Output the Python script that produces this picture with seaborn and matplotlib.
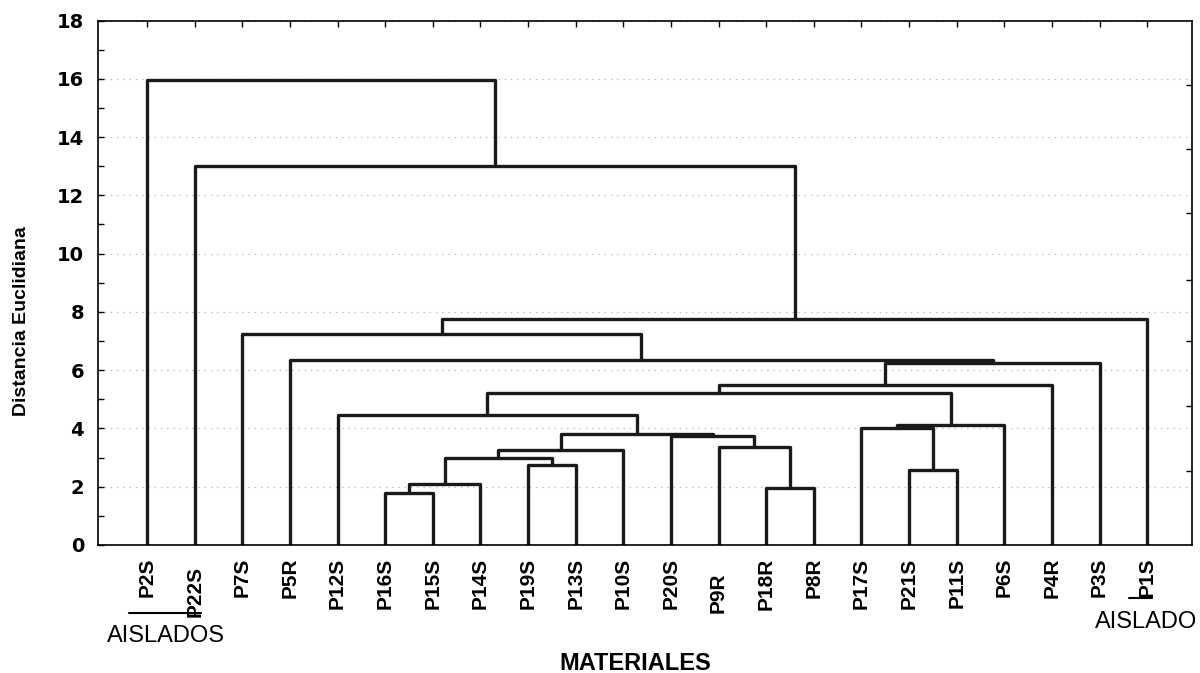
import numpy as np
import pandas as pd
import seaborn as sns
import matplotlib.pyplot as plt
import matplotlib.transforms as mtransforms
from matplotlib.lines import Line2D
from matplotlib.ticker import MultipleLocator

# hojas del dendrograma, en el orden en que se dibujan
leaves = ["P2S", "P22S", "P7S", "P5R", "P12S", "P16S", "P15S", "P14S", "P19S",
          "P13S", "P10S", "P20S", "P9R", "P18R", "P8R", "P17S", "P21S", "P11S",
          "P6S", "P4R", "P3S", "P1S"]

# uniones (tipo linkage): hoja < 22, grupo nuevo = 22 + fila
merge_a = [5, 22, 8, 23, 25, 13, 12, 11, 26, 4, 16, 15, 33, 31, 35, 36, 3, 2, 39, 1, 0]
merge_b = [6, 7, 9, 24, 10, 14, 27, 28, 29, 30, 17, 32, 18, 34, 19, 20, 37, 38, 21, 40, 41]
merge_h = [1.79, 2.10, 2.74, 2.97, 3.25, 1.97, 3.37, 3.73, 3.80, 4.45, 2.59, 4.00,
           4.11, 5.21, 5.48, 6.26, 6.34, 7.24, 7.77, 13.02, 15.97]

# marcas del eje derecho (escala propia de Statistica)
right_ticks = [2.53, 4.76, 7.0, 9.1, 11.4, 13.6, 15.8]

n = len(leaves)
pos = {i: (i + 1, 0.0) for i in range(n)}
rows = []
for k, (a, b, h) in enumerate(zip(merge_a, merge_b, merge_h)):
    xa, ya = pos[a]
    xb, yb = pos[b]
    for x, y in [(xa, ya), (xa, h), (xb, h), (xb, yb)]:
        rows.append({"seg": k, "x": x, "y": y})
    pos[n + k] = ((xa + xb) / 2, h)
df = pd.DataFrame(rows)

sns.set_style("white", rc={"text.color": "black", "axes.labelcolor": "black",
                           "xtick.color": "black", "ytick.color": "black",
                           "axes.edgecolor": "black"})
plt.rcParams["font.family"] = ["Liberation Sans", "DejaVu Sans"]

fig = plt.figure(figsize=(12, 6.73), dpi=100)
ax = fig.add_axes([98 / 1200, 128 / 673, 1094 / 1200, 524.5 / 673])

sns.lineplot(data=df, x="x", y="y", units="seg", estimator=None, sort=False,
             color="#1a1a1a", linewidth=2.4, ax=ax)

ax.set_xlim(-0.03, 22.94)
ax.set_ylim(0, 18)
ax.set_xlabel("")
ax.set_ylabel("")

ax.set_xticks(range(1, n + 1))
ax.set_xticklabels(leaves, rotation=90, fontweight="bold", fontsize=15)
ax.tick_params(axis="x", direction="in", length=4, width=1, top=True, pad=9)

ax.set_yticks(range(0, 19, 2))
ax.yaxis.set_minor_locator(MultipleLocator(1))
ax.set_yticklabels([str(v) for v in range(0, 19, 2)], fontweight="bold",
                   fontsize=14, family="DejaVu Sans")
ax.tick_params(axis="y", which="both", direction="in", length=4, width=1, pad=10)
ax.yaxis.grid(True, linestyle=(0, (1, 4)), color="#b5b5b5", linewidth=0.9)
ax.set_axisbelow(True)

for s in ax.spines.values():
    s.set_color("black")
    s.set_linewidth(1.2)

ax2 = ax.twinx()
ax2.set_ylim(0, 18)
ax2.set_yticks(right_ticks)
ax2.tick_params(axis="y", direction="in", length=4, width=1, labelright=False)
for s in ax2.spines.values():
    s.set_visible(False)

# etiquetas desplazadas como en el original
shift = {"P22S": 8, "P9R": 15}
for lab in ax.get_xticklabels():
    if lab.get_text() in shift:
        off = mtransforms.ScaledTranslation(0, -shift[lab.get_text()] / 100, fig.dpi_scale_trans)
        lab.set_transform(lab.get_transform() + off)

fig.text(22 / 1200, 1 - 321 / 673, "Distancia Euclidiana", rotation=90,
         ha="center", va="center", fontsize=14, fontweight="bold")
fig.text(635 / 1200, 1 - 663 / 673, "MATERIALES", ha="center", va="center",
         fontsize=17, fontweight="bold")

fig.text(166 / 1200, 1 - 636 / 673, "AISLADOS", ha="center", va="center", fontsize=17)
fig.lines.append(Line2D([129 / 1200, 201 / 1200], [1 - 613 / 673] * 2,
                        transform=fig.transFigure, color="black", linewidth=1.5))
fig.text(1146 / 1200, 1 - 622 / 673, "AISLADO", ha="center", va="center", fontsize=17)
fig.lines.append(Line2D([1129 / 1200, 1152 / 1200], [1 - 598 / 673] * 2,
                        transform=fig.transFigure, color="black", linewidth=1.5))

fig.savefig("out.png", dpi=100)
